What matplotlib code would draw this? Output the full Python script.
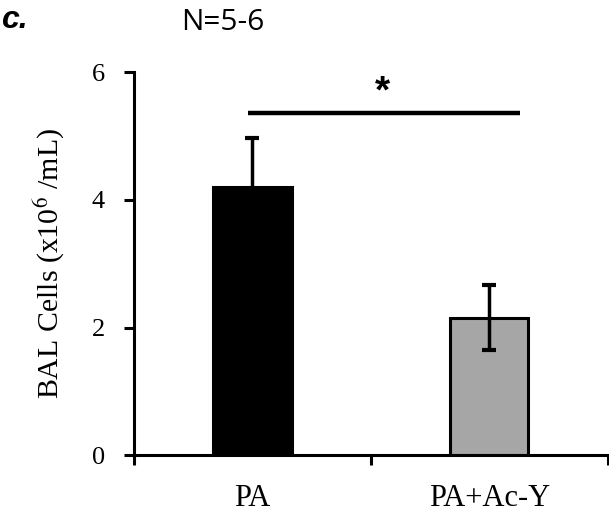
import matplotlib
matplotlib.use("Agg")
import matplotlib.pyplot as plt

plt.rcParams["mathtext.fontset"] = "stix"

categories = ["PA", "PA+Ac-Y"]
means = [4.2, 2.15]
errors = [0.77, 0.51]
colors = ["#000000", "#a6a6a6"]
yticks = [0, 2, 4, 6]
sig_y = 5.36
sig_x = [0.48, 1.63]

fig = plt.figure(figsize=(6.09, 5.12), dpi=100)
ax = fig.add_axes([0.22, 0.111, 0.778, 0.748])

x = [0.5, 1.5]
ax.bar(x, means, width=0.33, color=colors, edgecolor="black", linewidth=2.2, zorder=2)
ax.errorbar(x[0], means[0], yerr=errors[0], fmt="none", ecolor="black",
            elinewidth=2.5, capsize=5, capthick=3, zorder=1)
ax.errorbar(x[1], means[1], yerr=errors[1], fmt="none", ecolor="black",
            elinewidth=2.5, capsize=5, capthick=3, zorder=3)

ax.plot(sig_x, [sig_y, sig_y], color="black", lw=3.2, solid_capstyle="butt")
ax.text(1.05, sig_y + 0.04, "*", ha="center", va="bottom",
        fontsize=28, fontweight="bold", family="Liberation Sans")

ax.set_xlim(0, 2)
ax.set_ylim(0, 6)
ax.set_yticks(yticks)
ax.set_yticklabels([str(v) for v in yticks], family="Liberation Serif", fontsize=19)
ax.set_xticks([0, 1, 2])
ax.set_xticklabels([])
ax.set_xticks(x, minor=True)
ax.set_xticklabels(categories, minor=True, family="Liberation Serif", fontsize=22)
ax.tick_params(axis="x", which="minor", length=0, pad=21)
ax.tick_params(axis="x", which="major", length=7, width=2.2, direction="out")
ax.tick_params(axis="y", length=7, width=2.2, direction="out", pad=14)

for s in ["top", "right"]:
    ax.spines[s].set_visible(False)
for s in ["left", "bottom"]:
    ax.spines[s].set_linewidth(2.2)

ax.set_ylabel("BAL Cells (x10$^6$ /mL)", family="Liberation Serif", fontsize=21.5, labelpad=18)

fig.text(0.002, 0.99, "c.", fontsize=23, fontweight="bold", fontstyle="italic",
         family="Liberation Sans", ha="left", va="top")
fig.text(0.298, 0.985, "N=5-6", fontsize=21.5, family="Open Sans", ha="left", va="top")

fig.savefig("out.png", dpi=100)
